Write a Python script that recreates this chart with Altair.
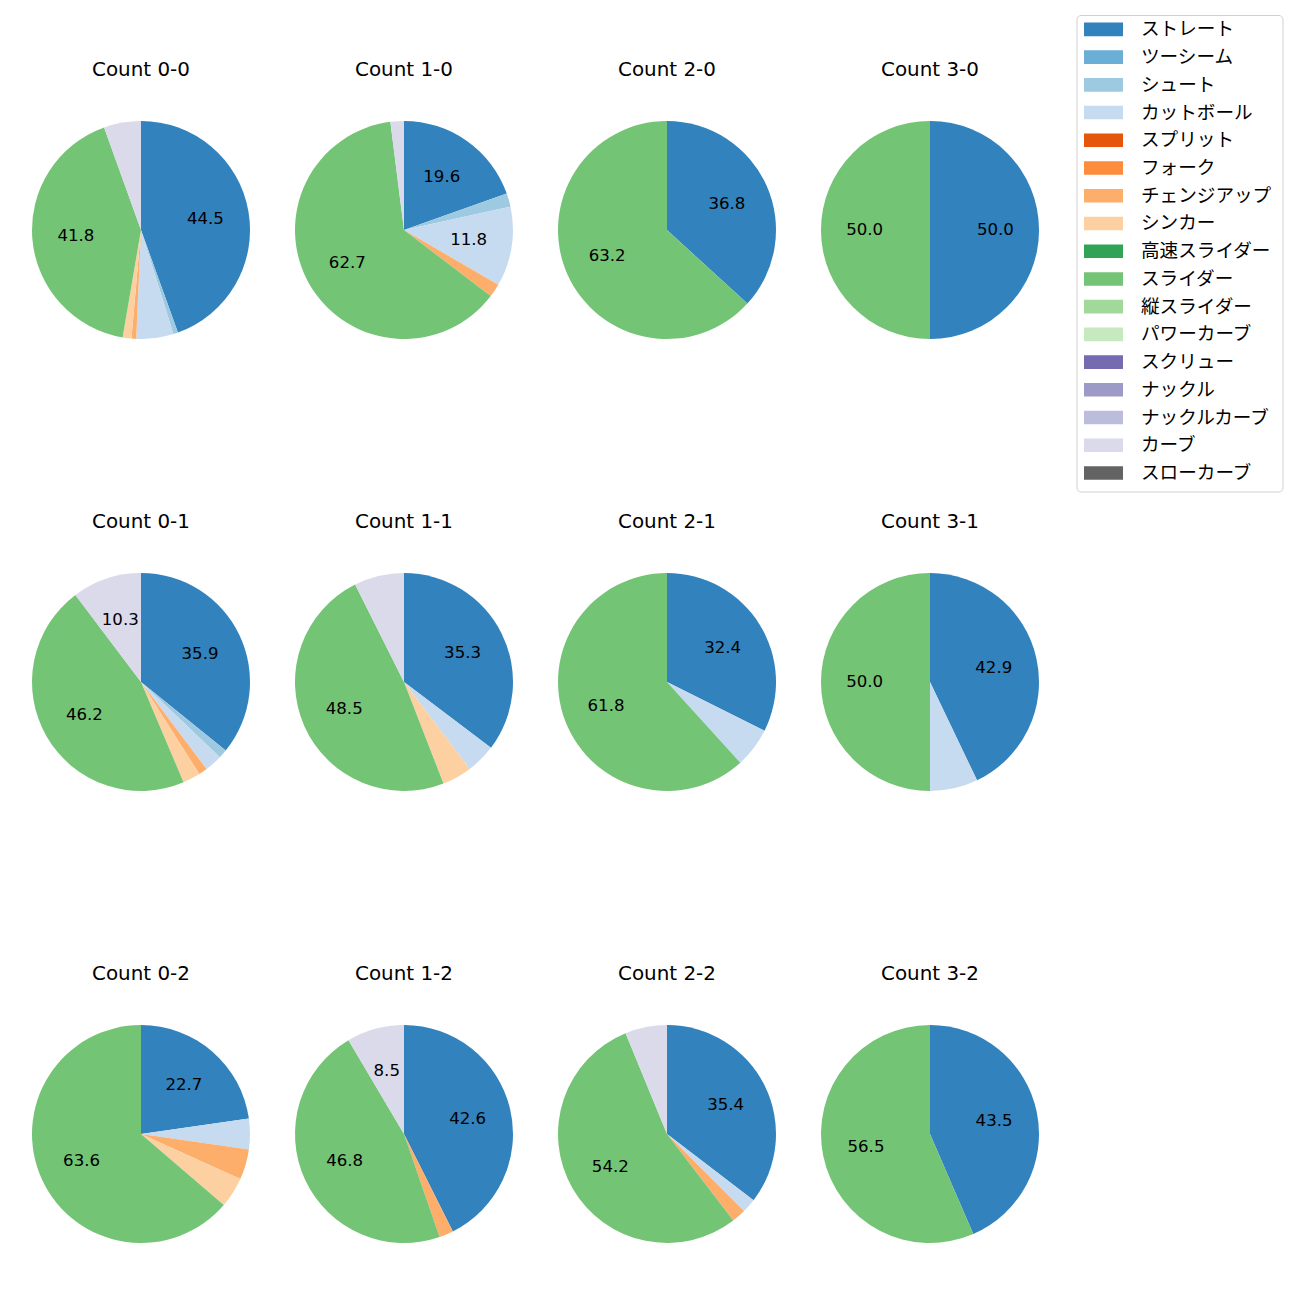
import altair as alt
import pandas as pd

pitches = ["ストレート", "ツーシーム", "シュート", "カットボール", "スプリット", "フォーク",
           "チェンジアップ", "シンカー", "高速スライダー", "スライダー", "縦スライダー",
           "パワーカーブ", "スクリュー", "ナックル", "ナックルカーブ", "カーブ", "スローカーブ"]
colors = ["#3182bd", "#6baed6", "#9ecae1", "#c6dbef", "#e6550d", "#fd8d3c", "#fdae6b",
          "#fdd0a2", "#31a354", "#74c476", "#a1d99b", "#c7e9c0", "#756bb1", "#9e9ac8",
          "#bcbddc", "#dadaeb", "#636363"]

counts = ["0-0", "1-0", "2-0", "3-0",
          "0-1", "1-1", "2-1", "3-1",
          "0-2", "1-2", "2-2", "3-2"]

# percentages per count, aligned with `pitches`
v_0_0 = [44.5, 0, 0.7, 5.5, 0, 0, 0.7, 1.3, 0, 41.8, 0, 0, 0, 0, 0, 5.5, 0]
v_1_0 = [19.6, 0, 2.0, 11.8, 0, 0, 2.0, 0, 0, 62.7, 0, 0, 0, 0, 0, 2.0, 0]
v_2_0 = [36.8, 0, 0, 0, 0, 0, 0, 0, 0, 63.2, 0, 0, 0, 0, 0, 0, 0]
v_3_0 = [50.0, 0, 0, 0, 0, 0, 0, 0, 0, 50.0, 0, 0, 0, 0, 0, 0, 0]
v_0_1 = [35.9, 0, 1.3, 2.6, 0, 0, 1.3, 2.6, 0, 46.2, 0, 0, 0, 0, 0, 10.3, 0]
v_1_1 = [35.3, 0, 0, 4.4, 0, 0, 0, 4.4, 0, 48.5, 0, 0, 0, 0, 0, 7.4, 0]
v_2_1 = [32.4, 0, 0, 5.9, 0, 0, 0, 0, 0, 61.8, 0, 0, 0, 0, 0, 0, 0]
v_3_1 = [42.9, 0, 0, 7.1, 0, 0, 0, 0, 0, 50.0, 0, 0, 0, 0, 0, 0, 0]
v_0_2 = [22.7, 0, 0, 4.5, 0, 0, 4.5, 4.5, 0, 63.6, 0, 0, 0, 0, 0, 0, 0]
v_1_2 = [42.6, 0, 0, 0, 0, 0, 2.1, 0, 0, 46.8, 0, 0, 0, 0, 0, 8.5, 0]
v_2_2 = [35.4, 0, 0, 2.1, 0, 0, 2.1, 0, 0, 54.2, 0, 0, 0, 0, 0, 6.2, 0]
v_3_2 = [43.5, 0, 0, 0, 0, 0, 0, 0, 0, 56.5, 0, 0, 0, 0, 0, 0, 0]

values = [v_0_0, v_1_0, v_2_0, v_3_0, v_0_1, v_1_1, v_2_1, v_3_1,
          v_0_2, v_1_2, v_2_2, v_3_2]

rows = []
for cnt, vals in zip(counts, values):
    b, s = cnt.split("-")
    for i, (p, v) in enumerate(zip(pitches, vals)):
        if v > 0:
            rows.append({"count": cnt, "col": int(b), "row": int(s),
                         "pitch": p, "pidx": i, "pct": v})
df = pd.DataFrame(rows)

title_df = pd.DataFrame({"count": counts,
                         "col": [int(c.split("-")[0]) for c in counts],
                         "row": [int(c.split("-")[1]) for c in counts]})
title_df["title"] = "Count " + title_df["count"]

legend_df = pd.DataFrame({"pitch": pitches, "idx": list(range(len(pitches)))})

LATIN = "DejaVu Sans, Noto Sans CJK JP"
CJK = "Noto Sans CJK JP"
xs = alt.Scale(domain=[0, 3], range=[133, 922])
ys = alt.Scale(domain=[0, 2], range=[222, 1126])
ts = alt.Scale(domain=[0, 1], range=[0, 6.283185307179586])
cs = alt.Scale(domain=pitches, range=colors)
ly = alt.Scale(domain=[0, 16], range=[21.4, 465])

base = alt.Chart(df).transform_joinaggregate(
    total="sum(pct)", groupby=["count"]
).transform_window(
    cum="sum(pct)", groupby=["count"], sort=[alt.SortField("pidx")], frame=[None, 0]
).transform_calculate(
    t0="(datum.cum - datum.pct) / datum.total",
    t1="datum.cum / datum.total",
    tm="(datum.cum - datum.pct / 2) / datum.total",
)

arcs = base.mark_arc(radius=109).encode(
    x=alt.X("col:Q", scale=xs, axis=None),
    y=alt.Y("row:Q", scale=ys, axis=None),
    theta=alt.Theta("t0:Q", scale=ts),
    theta2="t1:Q",
    color=alt.Color("pitch:N", scale=cs, legend=None),
)

labels = base.transform_filter("datum.pct >= 8").mark_text(
    radius=65.4, font=LATIN, fontSize=16.6, color="black", align="center", baseline="middle"
).encode(
    x=alt.X("col:Q", scale=xs, axis=None),
    y=alt.Y("row:Q", scale=ys, axis=None),
    theta=alt.Theta("tm:Q", scale=ts),
    text=alt.Text("pct:Q", format=".1f"),
)

titles = alt.Chart(title_df).mark_text(
    font=LATIN, fontSize=19.9, color="black", align="center", baseline="middle", dy=-160
).encode(
    x=alt.X("col:Q", scale=xs, axis=None),
    y=alt.Y("row:Q", scale=ys, axis=None),
    text="title:N",
)

frame = alt.Chart(pd.DataFrame({"a": [0]})).mark_rect(
    fill="white", stroke="#d0d0d0", strokeWidth=1, cornerRadius=4
).encode(
    x=alt.value(1069), x2=alt.value(1275), y=alt.value(7.5), y2=alt.value(484)
)

leg_base = alt.Chart(legend_df).transform_calculate(
    y0="datum.idx - 0.245", y1="datum.idx + 0.245"
)
leg_rects = leg_base.mark_rect().encode(
    x=alt.value(1076), x2=alt.value(1115),
    y=alt.Y("y0:Q", scale=ly, axis=None), y2="y1:Q",
    color=alt.Color("pitch:N", scale=cs, legend=None),
)
leg_text = leg_base.mark_text(
    font=CJK, fontSize=18.6, color="black", align="left", baseline="middle"
).encode(
    x=alt.value(1133),
    y=alt.Y("idx:Q", scale=ly, axis=None),
    text="pitch:N",
)

chart = alt.layer(arcs, labels, titles, frame, leg_rects, leg_text).resolve_scale(
    y="independent", x="independent"
).properties(
    width=1284, height=1284, autosize=alt.AutoSizeParams(type="none"), padding=0
).configure_view(stroke=None)

chart.save("out.html", embed_options={"renderer": "svg", "actions": False})
